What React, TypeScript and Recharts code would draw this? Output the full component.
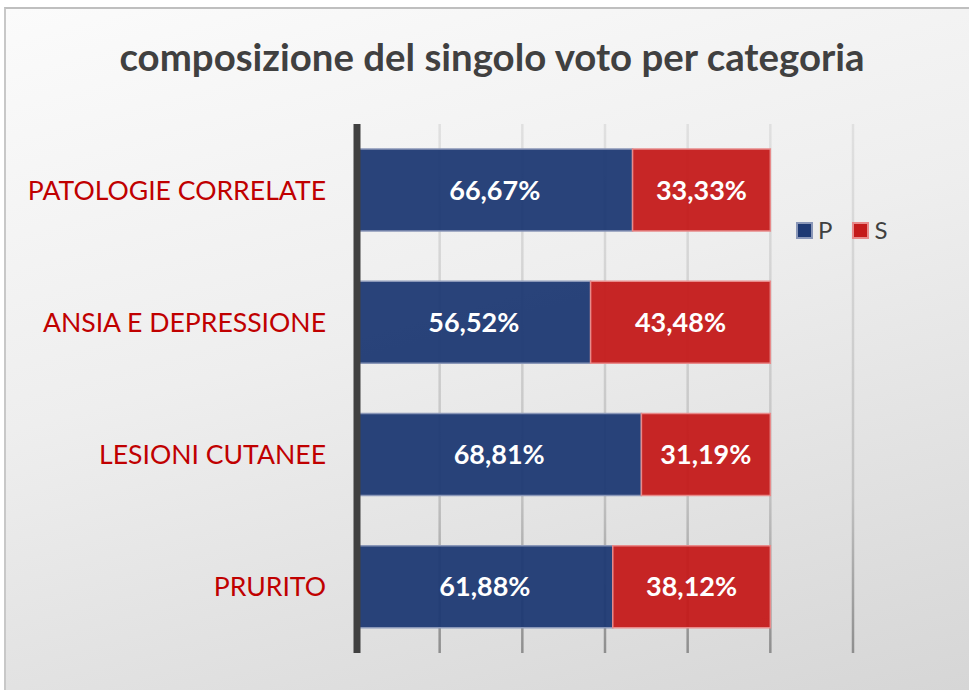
import React from "react";
import { BarChart, Bar, XAxis, YAxis, CartesianGrid, LabelList, Legend } from "recharts";

const categories = ["PATOLOGIE CORRELATE", "ANSIA E DEPRESSIONE", "LESIONI CUTANEE", "PRURITO"];
const seriesP = [66.67, 56.52, 68.81, 61.88];
const seriesS = [33.33, 43.48, 31.19, 38.12];
const xTicks = [0, 20, 40, 60, 80, 100, 120];
const title = "composizione del singolo voto per categoria";

const data = categories.map((name, i) => ({ name, P: seriesP[i], S: seriesS[i] }));

const fmt = (v: any) => Number(v).toFixed(2).replace(".", ",") + "%";

const FONT = "Lato, 'Open Sans', sans-serif";

const LegendContent = (props: any) => {
  const { payload } = props;
  return (
    <div style={{ display: "flex", alignItems: "center", fontFamily: FONT, fontSize: 24, color: "#404040", lineHeight: "26px" }}>
      {(payload || []).map((p: any) => (
        <span key={p.value} style={{ display: "flex", alignItems: "center", marginRight: 20 }}>
          <span
            style={{
              display: "inline-block",
              width: 13,
              height: 13,
              background: p.color,
              border: `2px solid ${p.value === "P" ? "#8a97b8" : "#e88a8a"}`,
              marginRight: 5,
            }}
          />
          {p.value}
        </span>
      ))}
    </div>
  );
};

export default function App() {
  return (
    <div style={{ position: "absolute", left: 0, top: 0, width: 969, height: 690, background: "#ffffff", overflow: "hidden" }}>
      <div
        style={{
          position: "absolute",
          left: 4,
          top: 7,
          width: 965,
          height: 683,
          boxSizing: "border-box",
          borderTop: "2px solid #bfbfbf",
          borderLeft: "2px solid #c8c8c8",
          background: "linear-gradient(165deg, #fbfbfb 0%, #eeeeee 45%, #d6d6d6 100%)",
        }}
      />
      <div style={{ position: "absolute", left: 0, top: 0 }}>
        <BarChart
          width={969}
          height={690}
          data={data}
          layout="vertical"
          margin={{ top: 124, right: 116, bottom: 37, left: 0 }}
        >
          <defs>
            <linearGradient id="gridGrad" gradientUnits="userSpaceOnUse" x1="0" y1="124" x2="0" y2="653">
              <stop offset="0%" stopColor="#e0e0e0" />
              <stop offset="70%" stopColor="#c2c2c2" />
              <stop offset="100%" stopColor="#8e8e8e" />
            </linearGradient>
          </defs>
          <CartesianGrid horizontal={false} stroke="url(#gridGrad)" strokeWidth={2.5} />
          <XAxis type="number" domain={[0, 120]} ticks={xTicks} hide />
          <Legend
            layout="horizontal"
            verticalAlign="middle"
            align="center"
            content={<LegendContent />}
            wrapperStyle={{ position: "absolute", left: 796, top: 217, width: 120 }}
          />
          <Bar
            dataKey="P"
            stackId="a"
            fill="#1e3973"
            fillOpacity={0.95}
            stroke="#8a97b8"
            strokeWidth={1.5}
            barSize={82}
            isAnimationActive={false}
          >
            <LabelList dataKey="P" position="center" formatter={fmt} fill="#ffffff" fontSize={27} fontWeight="bold" fontFamily={FONT} />
          </Bar>
          <Bar
            dataKey="S"
            stackId="a"
            fill="#c41a1a"
            fillOpacity={0.95}
            stroke="#e88a8a"
            strokeWidth={1.5}
            barSize={82}
            isAnimationActive={false}
          >
            <LabelList dataKey="S" position="center" formatter={fmt} fill="#ffffff" fontSize={27} fontWeight="bold" fontFamily={FONT} />
          </Bar>
          <YAxis
            type="category"
            dataKey="name"
            width={357}
            axisLine={{ stroke: "#404040", strokeWidth: 7 }}
            tickLine={false}
            tickSize={0}
            tickMargin={31}
            tick={{ fill: "#c00000", fontSize: 26.6, fontFamily: FONT }}
          />
        </BarChart>
      </div>
      <svg width={969} height={690} style={{ position: "absolute", left: 0, top: 0, pointerEvents: "none" }}>
        <text x={492} y={71} textAnchor="middle" fontFamily={FONT} fontWeight="bold" fontSize={38.4} fill="#404040">
          {title}
        </text>
      </svg>
    </div>
  );
}
